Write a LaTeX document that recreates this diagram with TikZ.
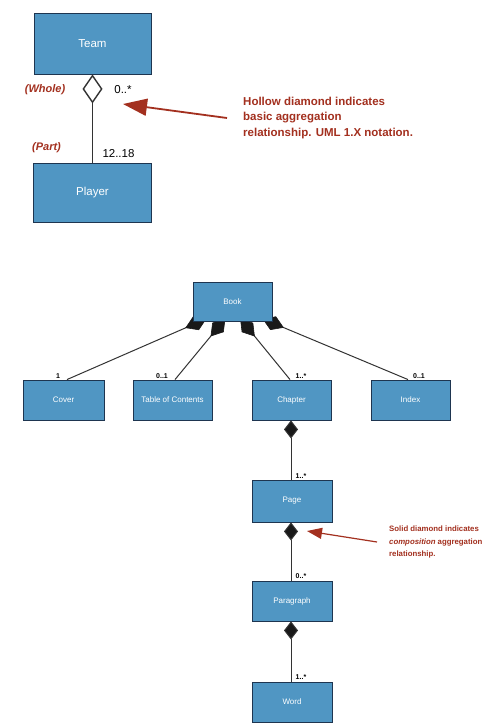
\documentclass[tikz,border=0pt]{standalone}
\usepackage{fontspec}
\setmainfont{Liberation Sans}
\usetikzlibrary{arrows.meta,calc}
\definecolor{boxblue}{HTML}{5096C3}
\definecolor{boxline}{HTML}{1E3550}
\definecolor{noteRed}{HTML}{A3301F}
\definecolor{connGray}{HTML}{333333}
\pgfdeclarelayer{bg}
\pgfsetlayers{bg,main}
\begin{document}
\begin{tikzpicture}[x=1pt,y=-1pt,
  cls/.style={draw=boxline, line width=0.9pt, fill=boxblue, text=white, inner sep=0pt},
  bigcls/.style={cls, font=\fontsize{11.5}{13}\selectfont},
  smallcls/.style={cls, font=\fontsize{8}{9}\selectfont, minimum width=80pt, minimum height=40pt},
  bigmult/.style={font=\fontsize{11.5}{13}\selectfont, inner sep=0pt},
  smallmult/.style={font=\bfseries\fontsize{7}{8}\selectfont, inner sep=0pt},
  role/.style={font=\bfseries\itshape\fontsize{11}{13}\selectfont, text=noteRed, inner sep=0pt},
  bignote/.style={font=\bfseries\fontsize{11.5}{15.5}\selectfont, text=noteRed, align=left, inner sep=0pt, anchor=west},
  smallnote/.style={font=\bfseries\fontsize{7.8}{12.3}\selectfont, text=noteRed, align=left, inner sep=0pt, anchor=west},
  conn/.style={draw=connGray, line width=1pt},
  comp/.style={conn, -{Diamond[length=18pt,width=14pt,fill=black!90]}},
  dia/.style={fill=black!90, draw=black!90, line width=0.6pt, line join=miter},
  agg/.style={draw=connGray, line width=1.4pt, -{Diamond[open,length=29pt,width=20pt,fill=white]}},
  redarrow/.style={draw=noteRed, line width=1.8pt, -{Triangle[length=24pt,width=17pt]}},
  smallredarrow/.style={draw=noteRed, line width=1.2pt, -{Triangle[length=15pt,width=11pt]}}
]
\useasboundingbox (0,0) rectangle (503,726);
\begin{pgfonlayer}{bg}
\fill[white] (0,0) rectangle (503,726);
\end{pgfonlayer}

% ---- top: aggregation ----
\node[bigcls, minimum width=117pt, minimum height=61pt] (team) at (92.5,43.5) {Team};
\node[bigcls, minimum width=118pt, minimum height=59pt] (player) at (92.5,192.5) {Player};
\draw[agg] (player.north) -- (player.north |- team.south);
\node[role] (whole) at (45,90) {(Whole)};
\node[role] (part) at (46.5,148) {(Part)};
\node[bigmult] (m0) at (123,90) {0..*};
\node[bigmult] (m1218) at (118.5,154) {12..18};
\node[bignote] (note1) at (243,118) {Hollow diamond indicates\\basic aggregation\\relationship. UML 1.X notation.};
\coordinate (tip1) at (123,104);
\draw[redarrow] ([xshift=-16pt]note1.west) -- (tip1);

% ---- bottom: composition ----
\node[smallcls, minimum width=79pt, minimum height=39pt] (book) at (232.5,301.5) {Book};
\node[smallcls, minimum width=81pt] (cover) at (63.5,400) {Cover};
\node[smallcls, minimum width=79pt] (toc) at (172.5,400) {Table of Contents};
\node[smallcls, minimum width=79pt] (chapter) at (291.5,400) {Chapter};
\node[smallcls, minimum width=79pt] (index) at (410.5,400) {Index};
\node[smallcls, minimum height=42pt] (page) at (292,501) {Page};
\node[smallcls] (para) at (292,601) {Paragraph};
\node[smallcls] (word) at (292,702) {Word};

\coordinate (bc) at ([xshift=-26.5pt,yshift=2.5pt]book.south);
\coordinate (bt) at ([xshift=-7.5pt,yshift=2.5pt]book.south);
\coordinate (bh) at ([xshift=8pt,yshift=2.5pt]book.south);
\coordinate (bi) at ([xshift=30.5pt,yshift=2.5pt]book.south);
\coordinate (cc) at ([xshift=3.5pt]cover.north);
\coordinate (ct) at ([xshift=2.5pt]toc.north);
\coordinate (ch) at ([xshift=-1.5pt]chapter.north);
\coordinate (ci) at ([xshift=-2.5pt]index.north);
\begin{pgfonlayer}{bg}
\foreach \b/\c in {bc/cc, bt/ct, bh/ch, bi/ci} {
  \draw[conn] (\c) -- ($(\b)!21pt!(\c)$);
  \path[dia] (\b) -- ($($(\b)!11pt!(\c)$)!7pt!90:(\c)$) -- ($(\b)!22pt!(\c)$)
     -- ($($(\b)!11pt!(\c)$)!7pt!-90:(\c)$) -- cycle;
}
\end{pgfonlayer}

\draw[comp] ([xshift=-1pt]page.north) -- ([xshift=-1pt]page.north |- chapter.south);
\draw[comp] ([xshift=-1pt]para.north) -- ([xshift=-1pt]page.south);
\draw[comp] ([xshift=-1pt]word.north) -- ([xshift=-1pt]para.south);

\node[smallmult] (mc) at (58,376) {1};
\node[smallmult] (mt) at (162,376) {0..1};
\node[smallmult] (mch) at (301,376) {1..*};
\node[smallmult] (mi) at (419,376) {0..1};
\node[smallmult] (mp) at (301,476) {1..*};
\node[smallmult] (mpa) at (301,576) {0..*};
\node[smallmult] (mw) at (301,677) {1..*};

\node[smallnote] (note2) at (389,542) {Solid diamond indicates\\\textit{composition} aggregation\\relationship.};
\coordinate (tip2) at (307,531);
\draw[smallredarrow] ([xshift=-12pt]note2.west) -- (tip2);
\end{tikzpicture}
\end{document}
